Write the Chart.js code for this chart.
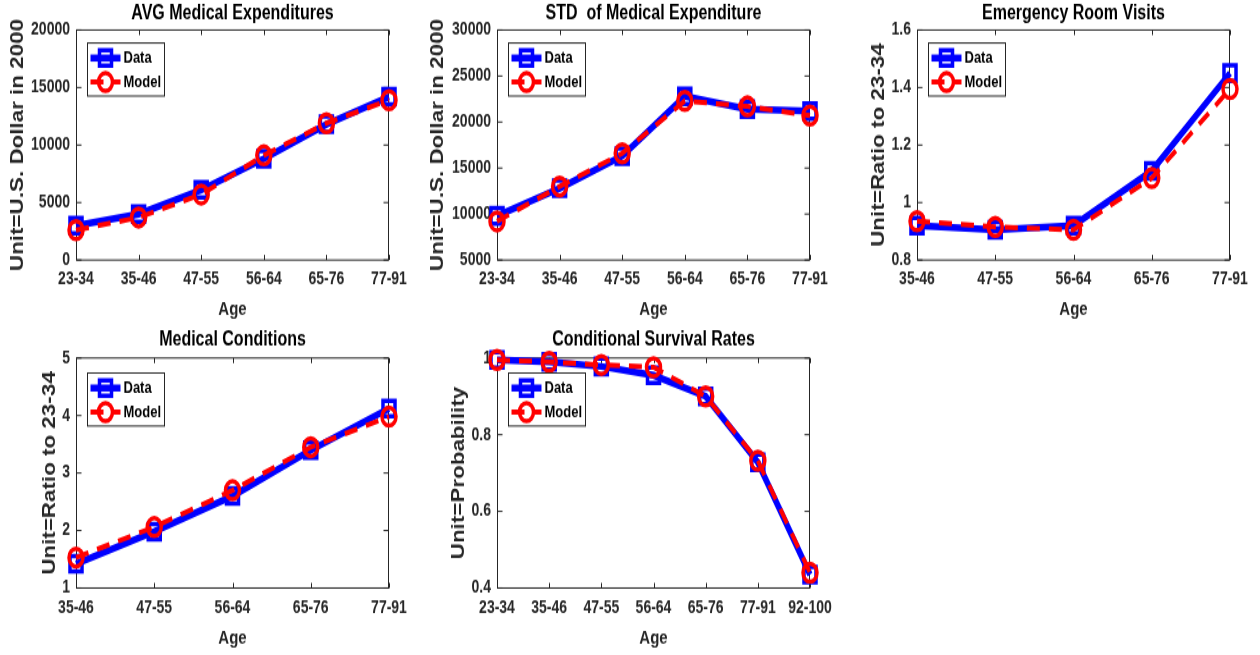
<!DOCTYPE html>
<html lang="en">
<head>
  <meta charset="UTF-8">
  <title>Medical Expenditures by Age</title>
  <script src="https://cdn.jsdelivr.net/npm/chart.js@4.4.1/dist/chart.umd.min.js"></script>
  <style>
    body { margin: 0; background: #fff; width: 1260px; height: 655px; position: relative; overflow: hidden; }
    /* the original figure is stretched vertically, so each panel is drawn short and scaled up */
    .panel { position: absolute; width: 420px; transform: scaleY(1.28); transform-origin: 0 0; }
  </style>
</head>
<body>
  <div class="panel" style="left:0;top:0"><canvas id="avgChart" width="420" height="254"></canvas></div>
  <div class="panel" style="left:420px;top:0"><canvas id="stdChart" width="420" height="254"></canvas></div>
  <div class="panel" style="left:840px;top:0"><canvas id="erChart" width="420" height="254"></canvas></div>
  <div class="panel" style="left:0;top:325px"><canvas id="condChart" width="420" height="258"></canvas></div>
  <div class="panel" style="left:420px;top:325px"><canvas id="survChart" width="420" height="258"></canvas></div>
<script>
// age groups
const ages6 = ['23-34', '35-46', '47-55', '56-64', '65-76', '77-91'];
const ages5 = ['35-46', '47-55', '56-64', '65-76', '77-91'];
const ages7 = ['23-34', '35-46', '47-55', '56-64', '65-76', '77-91', '92-100'];

// AVG medical expenditures
const avgData  = [3000, 4000, 6100, 8800, 11800, 14200];
const avgModel = [2600, 3700, 5700, 9100, 11900, 13900];
const avgTicks = [0, 5000, 10000, 15000, 20000];

// STD of medical expenditure
const stdData  = [9800, 12800, 16300, 22800, 21400, 21200];
const stdModel = [9200, 13000, 16600, 22300, 21700, 20700];
const stdTicks = [5000, 10000, 15000, 20000, 25000, 30000];

// emergency room visits
const erData  = [0.92, 0.905, 0.92, 1.11, 1.45];
const erModel = [0.935, 0.915, 0.905, 1.085, 1.395];
const erTicks = [0.8, 1, 1.2, 1.4, 1.6];

// medical conditions
const condData  = [1.42, 1.98, 2.6, 3.4, 4.12];
const condModel = [1.53, 2.06, 2.7, 3.45, 3.98];
const condTicks = [1, 2, 3, 4, 5];

// conditional survival rates
const survData  = [0.995, 0.99, 0.978, 0.955, 0.9, 0.728, 0.435];
const survModel = [0.995, 0.99, 0.982, 0.976, 0.9, 0.732, 0.44];
const survTicks = [0.4, 0.6, 0.8, 1];

const K = 1.28; // vertical stretch of the panels
const FONT = "'Liberation Sans', Arial, Helvetica, sans-serif";
const AXIS = '#262626';

// box round the axes with inward ticks, like matlab
const boxPlugin = {
  id: 'axesBox',
  beforeDatasetsDraw(chart) {
    const { ctx, chartArea: a, scales: { x, y } } = chart;
    const L = Math.round(a.left) + 0.5, R = Math.round(a.right) - 0.5;
    const T = a.top, B = a.bottom;
    ctx.save();
    ctx.strokeStyle = AXIS;
    ctx.lineWidth = 1;
    ctx.strokeRect(L, T, R - L, B - T);
    ctx.beginPath();
    x.ticks.forEach((t, i) => {
      const px = Math.round(x.getPixelForTick(i)) + 0.5;
      ctx.moveTo(px, B); ctx.lineTo(px, B - 4);
      ctx.moveTo(px, T); ctx.lineTo(px, T + 4);
    });
    y.ticks.forEach((t, i) => {
      const py = y.getPixelForTick(i);
      ctx.moveTo(L, py); ctx.lineTo(L + 5, py);
      ctx.moveTo(R, py); ctx.lineTo(R - 5, py);
    });
    ctx.stroke();
    ctx.restore();
  }
};

// legend inside the axes, top left
const legendPlugin = {
  id: 'boxLegend',
  afterDatasetsDraw(chart, args, opts) {
    const { ctx, chartArea: a } = chart;
    const bx = Math.round(a.left) + 11.5, by = a.top + opts.dy / K;
    const bw = 77, bh = 53 / K;
    ctx.save();
    ctx.fillStyle = '#fff';
    ctx.fillRect(bx, by, bw, bh);
    ctx.strokeStyle = AXIS;
    ctx.lineWidth = 1;
    ctx.strokeRect(bx, by, bw, bh);
    chart.data.datasets.forEach((ds, i) => {
      const cy = by + (15 + i * 24) / K;
      ctx.strokeStyle = ds.borderColor;
      ctx.lineWidth = ds.borderWidth;
      ctx.setLineDash(ds.borderDash || []);
      ctx.beginPath();
      ctx.moveTo(bx + 3, cy); ctx.lineTo(bx + 33, cy);
      ctx.stroke();
      ctx.setLineDash([]);
      ctx.lineWidth = ds.pointBorderWidth;
      ctx.beginPath();
      if (ds.pointStyle === 'rect') {
        const s = ds.pointRadius * Math.SQRT1_2;
        ctx.rect(bx + 18 - s, cy - s, 2 * s, 2 * s);
      } else {
        ctx.arc(bx + 18, cy, ds.pointRadius, 0, Math.PI * 2);
      }
      ctx.stroke();
      ctx.fillStyle = '#000';
      ctx.font = 'bold 13px ' + FONT;
      ctx.textBaseline = 'middle';
      ctx.fillText(ds.label, bx + 36, cy + 0.5);
    });
    ctx.restore();
  }
};

function makePanel(id, p) {
  const w = 420;
  const h = document.getElementById(id).height;
  const area = {
    left: p.area.left, right: p.area.right,
    top: p.area.top / K, bottom: p.area.bottom / K
  };
  const titleTop = p.titleMid / K - 9.6;
  new Chart(document.getElementById(id), {
    type: 'line',
    data: {
      labels: p.labels,
      datasets: [
        {
          label: 'Data', data: p.data, order: 1,
          borderColor: '#0000ff', borderWidth: 5.5,
          pointStyle: 'rect', pointRadius: 8.5, pointBorderWidth: 3.5,
          pointBorderColor: '#0000ff', pointBackgroundColor: 'rgba(0,0,0,0)',
          tension: 0, clip: false
        },
        {
          label: 'Model', data: p.model, order: 0,
          borderColor: '#ff0000', borderWidth: 4, borderDash: [13, 9],
          pointStyle: 'circle', pointRadius: 7, pointBorderWidth: 3.5,
          pointBorderColor: '#ff0000', pointBackgroundColor: 'rgba(0,0,0,0)',
          tension: 0, clip: false
        }
      ]
    },
    options: {
      responsive: false,
      animation: false,
      layout: { padding: { left: 0, top: 0, bottom: 0, right: w - area.right } },
      plugins: {
        legend: { display: false },
        tooltip: { enabled: false },
        title: {
          display: true, text: p.title, color: '#000', fullSize: false,
          font: { family: FONT, size: 16, weight: 'bold', lineHeight: 1.2 },
          padding: { top: titleTop, bottom: area.top - titleTop - 19.2 }
        },
        boxLegend: { dy: p.legendDy }
      },
      scales: {
        x: {
          offset: false,
          grid: { display: false, drawTicks: false },
          border: { display: false },
          ticks: {
            autoSkip: false, maxRotation: 0, color: AXIS, padding: 7,
            font: { family: FONT, size: 14, weight: 'bold' }
          },
          title: {
            display: true, text: 'Age', color: AXIS,
            font: { family: FONT, size: 15, weight: 'bold', lineHeight: 1.2 },
            padding: { top: 0, bottom: p.ageOffset / K - 9 }
          },
          afterFit: s => { s.height = h - area.bottom; }
        },
        y: {
          min: p.ticks[0], max: p.ticks[p.ticks.length - 1],
          afterBuildTicks: s => { s.ticks = p.ticks.map(v => ({ value: v })); },
          grid: { display: false, drawTicks: false },
          border: { display: false },
          ticks: {
            color: AXIS, padding: 6,
            font: { family: FONT, size: 14, weight: 'bold' },
            callback: v => String(v)
          },
          title: {
            display: true, text: p.ylabel, color: AXIS,
            font: { family: FONT, size: 17.5, weight: 'bold', lineHeight: 1.2 },
            padding: { top: p.ylabelMid - 10.5, bottom: 0 }
          },
          afterFit: s => { s.width = area.left; }
        }
      }
    },
    plugins: [boxPlugin, legendPlugin]
  });
}

makePanel('avgChart', {
  labels: ages6, data: avgData, model: avgModel, ticks: avgTicks,
  title: 'AVG Medical Expenditures', ylabel: 'Unit=U.S. Dollar in 2000',
  area: { left: 76, right: 389, top: 30, bottom: 260 },
  titleMid: 13, ylabelMid: 18, ageOffset: 15, legendDy: 13
});
makePanel('stdChart', {
  labels: ages6, data: stdData, model: stdModel, ticks: stdTicks,
  title: 'STD  of Medical Expenditure', ylabel: 'Unit=U.S. Dollar in 2000',
  area: { left: 77, right: 390, top: 30, bottom: 260 },
  titleMid: 13, ylabelMid: 18, ageOffset: 15, legendDy: 13
});
makePanel('erChart', {
  labels: ages5, data: erData, model: erModel, ticks: erTicks,
  title: 'Emergency Room Visits', ylabel: 'Unit=Ratio to 23-34',
  area: { left: 77, right: 390, top: 30, bottom: 260 },
  titleMid: 13, ylabelMid: 39, ageOffset: 15, legendDy: 13
});
makePanel('condChart', {
  labels: ages5, data: condData, model: condModel, ticks: condTicks,
  title: 'Medical Conditions', ylabel: 'Unit=Ratio to 23-34',
  area: { left: 76, right: 389, top: 33, bottom: 263 },
  titleMid: 15, ylabelMid: 50, ageOffset: 17, legendDy: 15
});
makePanel('survChart', {
  labels: ages7, data: survData, model: survModel, ticks: survTicks,
  title: 'Conditional Survival Rates', ylabel: 'Unit=Probability',
  area: { left: 77, right: 390, top: 33, bottom: 263 },
  titleMid: 15, ylabelMid: 39, ageOffset: 17, legendDy: 15
});
</script>
</body>
</html>
